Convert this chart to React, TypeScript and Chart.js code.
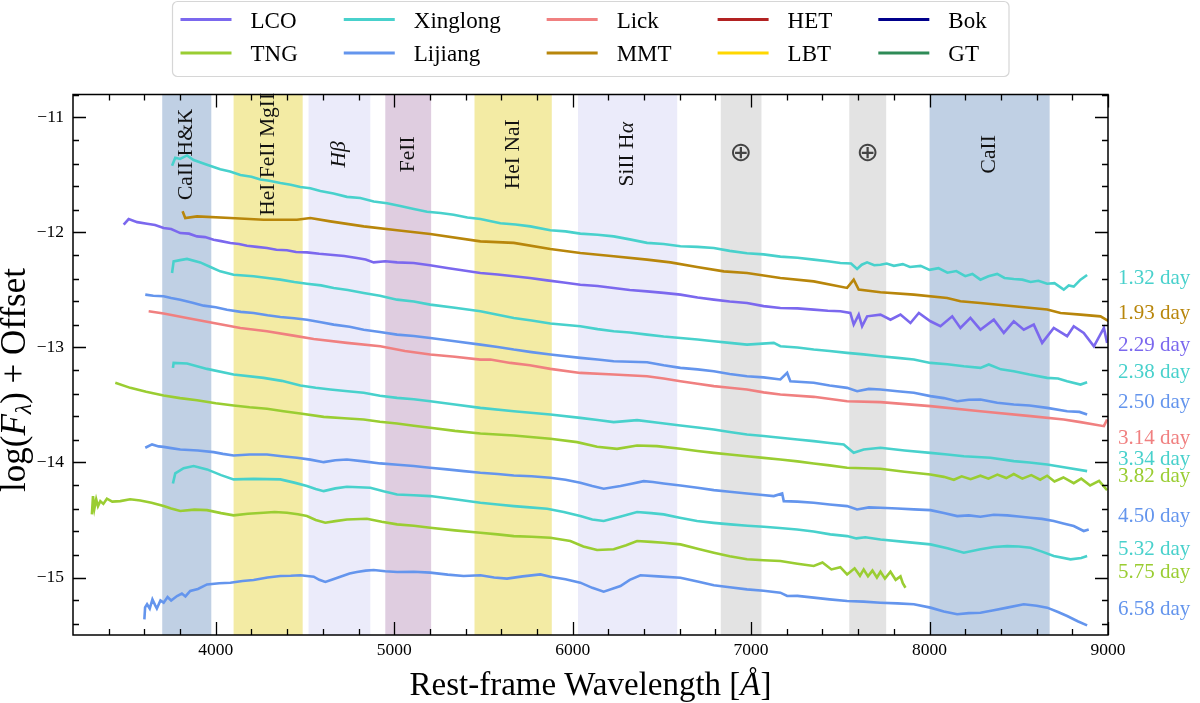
import React, { useEffect, useRef } from "react";
import { Chart, registerables } from "chart.js";
Chart.register(...registerables);

const SERIF = "'Liberation Serif', 'Times New Roman', Times, serif";

// Telescopes (legend)
const telescopeNames = ["LCO", "TNG", "Xinglong", "Lijiang", "Lick", "MMT", "HET", "LBT", "Bok", "GT"];
const telescopeColors = ["#7B68EE", "#9ACD32", "#48D1CC", "#6495ED", "#F08080", "#B8860B", "#B22222", "#FFD700", "#00008B", "#2E8B57"];

// Line-identification bands (Angstrom)
const bandStart = [3700, 4100, 4520, 4950, 5450, 6030, 6830, 7550, 8000];
const bandEnd = [3975, 4487, 4866, 5207, 5883, 6586, 7058, 7757, 8673];
const bandLabels = ["CaII H&K", "HeI FeII MgII", "$Hβ$", "FeII", "HeI NaI", "SiII H$α$", "⊕", "⊕", "CaII"];
const bandColors = ["#C0D0E4", "#F3EBA4", "#EBEBFA", "#DFCDE0", "#F3EBA4", "#EBEBFA", "#E3E3E3", "#E3E3E3", "#C0D0E4"];
const bandLabelLevel = -11.32;

// Axis ticks
const xMajorTicks = [4000, 5000, 6000, 7000, 8000, 9000];
const yMajorTicks = [-15, -14, -13, -12, -11];

// Spectra: [rest wavelength, log flux + offset]
const xinglong132 = [[3755,-11.42],[3773,-11.35],[3800,-11.36],[3839,-11.33],[3876,-11.37],[3951,-11.41],[4025,-11.45],[4080,-11.47],[4138,-11.5],[4200,-11.515],[4250,-11.54],[4300,-11.55],[4362,-11.57],[4420,-11.585],[4474,-11.605],[4530,-11.615],[4586,-11.64],[4660,-11.66],[4735,-11.69],[4810,-11.70],[4885,-11.73],[4960,-11.745],[5034,-11.77],[5110,-11.795],[5184,-11.82],[5260,-11.83],[5333,-11.845],[5410,-11.87],[5483,-11.883],[5595,-11.92],[5680,-11.93],[5763,-11.947],[5875,-11.98],[5960,-11.99],[6043,-12.01],[6140,-12.02],[6230,-12.034],[6320,-12.06],[6417,-12.09],[6510,-12.1],[6604,-12.12],[6700,-12.125],[6791,-12.135],[6880,-12.16],[6977,-12.18],[7070,-12.19],[7164,-12.21],[7260,-12.22],[7351,-12.236],[7430,-12.25],[7500,-12.265],[7560,-12.27],[7594,-12.317],[7620,-12.28],[7650,-12.26],[7690,-12.285],[7725,-12.28],[7760,-12.27],[7800,-12.29],[7850,-12.275],[7890,-12.3],[7950,-12.29],[8000,-12.325],[8050,-12.31],[8100,-12.35],[8150,-12.335],[8200,-12.38],[8240,-12.36],[8285,-12.41],[8330,-12.38],[8379,-12.36],[8420,-12.395],[8472,-12.404],[8520,-12.41],[8566,-12.43],[8610,-12.42],[8659,-12.445],[8700,-12.44],[8752,-12.497],[8780,-12.46],[8808,-12.47],[8846,-12.41],[8883,-12.37]];
const mmt193 = [[3814,-11.816],[3829,-11.874],[3895,-11.86],[4082,-11.874],[4268,-11.889],[4455,-11.889],[4530,-11.874],[4642,-11.903],[4829,-11.947],[5016,-11.98],[5202,-12.013],[5483,-12.077],[5670,-12.09],[5875,-12.144],[6043,-12.178],[6230,-12.207],[6417,-12.236],[6548,-12.26],[6697,-12.3],[6847,-12.338],[6977,-12.352],[7164,-12.396],[7351,-12.425],[7538,-12.482],[7575,-12.41],[7603,-12.497],[7725,-12.52],[7912,-12.54],[8099,-12.57],[8173,-12.598],[8285,-12.613],[8472,-12.642],[8659,-12.67],[8734,-12.7],[8846,-12.714],[8958,-12.729],[9004,-12.77]];
const lco229 = [[3484,-11.932],[3512,-11.883],[3560,-11.91],[3615,-11.924],[3660,-11.935],[3708,-11.961],[3750,-11.97],[3801,-12.005],[3850,-12.01],[3895,-12.034],[3940,-12.04],[3988,-12.063],[4030,-12.075],[4082,-12.092],[4130,-12.1],[4175,-12.115],[4230,-12.125],[4287,-12.135],[4340,-12.15],[4399,-12.155],[4450,-12.17],[4511,-12.173],[4580,-12.185],[4642,-12.193],[4720,-12.205],[4791,-12.222],[4840,-12.235],[4885,-12.26],[4950,-12.25],[5016,-12.26],[5109,-12.265],[5200,-12.285],[5296,-12.309],[5390,-12.33],[5483,-12.352],[5580,-12.365],[5670,-12.381],[5760,-12.395],[5857,-12.416],[5950,-12.435],[6043,-12.454],[6140,-12.465],[6230,-12.483],[6320,-12.5],[6417,-12.512],[6510,-12.525],[6604,-12.54],[6700,-12.565],[6791,-12.584],[6880,-12.6],[6977,-12.613],[7070,-12.64],[7164,-12.656],[7260,-12.66],[7351,-12.671],[7430,-12.68],[7500,-12.685],[7556,-12.7],[7575,-12.8],[7603,-12.714],[7622,-12.815],[7650,-12.729],[7725,-12.714],[7781,-12.758],[7837,-12.714],[7893,-12.787],[7940,-12.7],[8005,-12.772],[8061,-12.815],[8127,-12.729],[8173,-12.83],[8229,-12.743],[8285,-12.845],[8360,-12.758],[8416,-12.873],[8472,-12.772],[8528,-12.845],[8584,-12.801],[8631,-12.96],[8696,-12.83],[8771,-12.902],[8808,-12.815],[8864,-12.873],[8921,-12.99],[8977,-12.83],[8995,-12.96]];
const xinglong238 = [[3755,-12.352],[3764,-12.251],[3800,-12.24],[3839,-12.23],[3913,-12.26],[3970,-12.3],[4025,-12.338],[4100,-12.367],[4212,-12.381],[4290,-12.395],[4362,-12.41],[4440,-12.43],[4511,-12.445],[4590,-12.46],[4661,-12.483],[4740,-12.5],[4829,-12.526],[4920,-12.55],[5016,-12.584],[5110,-12.6],[5202,-12.627],[5340,-12.655],[5483,-12.685],[5580,-12.715],[5670,-12.743],[5770,-12.765],[5875,-12.792],[6043,-12.815],[6140,-12.84],[6230,-12.859],[6320,-12.87],[6417,-12.888],[6510,-12.905],[6604,-12.917],[6700,-12.93],[6791,-12.946],[6880,-12.96],[6977,-12.975],[7127,-12.96],[7164,-12.989],[7260,-13.0],[7351,-13.018],[7440,-13.03],[7538,-13.047],[7630,-13.06],[7725,-13.076],[7820,-13.09],[7912,-13.105],[8005,-13.134],[8100,-13.145],[8192,-13.163],[8285,-13.177],[8332,-13.148],[8400,-13.19],[8472,-13.206],[8560,-13.235],[8659,-13.264],[8720,-13.27],[8771,-13.293],[8846,-13.322],[8883,-13.302]];
const lijiang250 = [[3605,-12.54],[3650,-12.55],[3708,-12.555],[3750,-12.57],[3801,-12.584],[3870,-12.61],[3932,-12.636],[4000,-12.65],[4063,-12.671],[4140,-12.69],[4212,-12.7],[4290,-12.72],[4362,-12.735],[4440,-12.745],[4511,-12.758],[4590,-12.78],[4661,-12.801],[4750,-12.82],[4829,-12.845],[4920,-12.865],[5016,-12.888],[5110,-12.9],[5202,-12.917],[5340,-12.945],[5483,-12.975],[5580,-12.995],[5670,-13.018],[5770,-13.04],[5875,-13.061],[6043,-13.09],[6140,-13.105],[6230,-13.119],[6417,-13.128],[6510,-13.155],[6604,-13.177],[6700,-13.19],[6791,-13.206],[6880,-13.23],[6977,-13.25],[7070,-13.26],[7164,-13.278],[7202,-13.221],[7220,-13.293],[7351,-13.307],[7440,-13.33],[7538,-13.351],[7594,-13.38],[7660,-13.36],[7725,-13.365],[7820,-13.38],[7912,-13.394],[8005,-13.423],[8080,-13.44],[8155,-13.467],[8220,-13.455],[8285,-13.452],[8379,-13.481],[8472,-13.496],[8560,-13.505],[8659,-13.525],[8771,-13.554],[8840,-13.56],[8883,-13.583]];
const lick314 = [[3624,-12.685],[3708,-12.705],[3839,-12.743],[3988,-12.787],[4138,-12.83],[4287,-12.859],[4436,-12.897],[4549,-12.926],[4735,-12.96],[4922,-12.989],[5060,-13.03],[5202,-13.061],[5340,-13.08],[5483,-13.105],[5539,-13.105],[5651,-13.134],[5760,-13.155],[5875,-13.186],[6043,-13.221],[6230,-13.235],[6417,-13.25],[6510,-13.27],[6604,-13.293],[6700,-13.315],[6791,-13.336],[6880,-13.35],[6977,-13.365],[7070,-13.39],[7164,-13.409],[7351,-13.429],[7538,-13.467],[7725,-13.475],[8005,-13.51],[8285,-13.554],[8566,-13.597],[8752,-13.626],[8846,-13.649],[8977,-13.684],[8995,-13.626]];
const xinglong334 = [[3760,-13.177],[3764,-13.134],[3839,-13.139],[3951,-13.186],[4100,-13.235],[4268,-13.264],[4370,-13.29],[4474,-13.331],[4560,-13.35],[4642,-13.365],[4740,-13.38],[4829,-13.394],[4920,-13.42],[5016,-13.438],[5110,-13.45],[5202,-13.467],[5340,-13.495],[5483,-13.525],[5670,-13.554],[5875,-13.583],[6043,-13.612],[6140,-13.63],[6230,-13.649],[6361,-13.632],[6480,-13.655],[6604,-13.678],[6700,-13.695],[6791,-13.713],[6880,-13.735],[6977,-13.756],[7070,-13.77],[7164,-13.785],[7260,-13.8],[7351,-13.814],[7440,-13.83],[7519,-13.843],[7575,-13.916],[7631,-13.887],[7725,-13.872],[7860,-13.895],[8005,-13.916],[8100,-13.93],[8192,-13.945],[8341,-13.959],[8472,-13.988],[8560,-14.0],[8659,-14.017],[8770,-14.045],[8883,-14.075]];
const tng382 = [[3437,-13.307],[3521,-13.351],[3610,-13.385],[3708,-13.417],[3800,-13.44],[3895,-13.458],[4000,-13.485],[4100,-13.504],[4190,-13.52],[4287,-13.533],[4380,-13.555],[4474,-13.574],[4605,-13.603],[4720,-13.615],[4829,-13.626],[4920,-13.645],[5016,-13.661],[5110,-13.68],[5202,-13.698],[5340,-13.725],[5483,-13.748],[5670,-13.765],[5875,-13.794],[6025,-13.823],[6137,-13.863],[6249,-13.881],[6361,-13.852],[6473,-13.858],[6604,-13.881],[6700,-13.9],[6791,-13.916],[6880,-13.93],[6977,-13.945],[7070,-13.96],[7164,-13.974],[7260,-13.99],[7351,-14.008],[7440,-14.025],[7538,-14.046],[7725,-14.055],[7860,-14.08],[8005,-14.104],[8080,-14.125],[8136,-14.15],[8180,-14.12],[8230,-14.145],[8285,-14.115],[8330,-14.14],[8380,-14.105],[8430,-14.135],[8472,-14.1],[8520,-14.14],[8570,-14.11],[8620,-14.15],[8659,-14.115],[8700,-14.165],[8750,-14.13],[8808,-14.18],[8850,-14.14],[8900,-14.2],[8950,-14.16],[8995,-14.24]];
const lijiang450 = [[3605,-13.872],[3643,-13.843],[3680,-13.86],[3708,-13.864],[3750,-13.875],[3801,-13.887],[3900,-13.895],[3988,-13.91],[4040,-13.925],[4100,-13.939],[4190,-13.93],[4287,-13.93],[4370,-13.945],[4455,-13.959],[4530,-13.975],[4605,-13.997],[4670,-13.98],[4735,-13.974],[4830,-13.99],[4922,-14.008],[5020,-14.02],[5109,-14.031],[5200,-14.045],[5296,-14.06],[5390,-14.075],[5483,-14.089],[5580,-14.1],[5670,-14.113],[5770,-14.12],[5875,-14.133],[5960,-14.15],[6043,-14.176],[6110,-14.205],[6174,-14.228],[6268,-14.205],[6330,-14.185],[6398,-14.162],[6450,-14.17],[6510,-14.182],[6604,-14.2],[6700,-14.22],[6791,-14.24],[6880,-14.255],[6977,-14.269],[7050,-14.28],[7127,-14.292],[7174,-14.269],[7183,-14.336],[7260,-14.34],[7351,-14.35],[7440,-14.365],[7538,-14.379],[7594,-14.408],[7660,-14.39],[7725,-14.393],[7820,-14.4],[7912,-14.408],[8005,-14.414],[8080,-14.44],[8155,-14.466],[8220,-14.46],[8285,-14.472],[8360,-14.455],[8435,-14.46],[8500,-14.47],[8566,-14.48],[8630,-14.49],[8696,-14.509],[8750,-14.53],[8808,-14.553],[8864,-14.596],[8892,-14.582]];
const xinglong532 = [[3760,-14.182],[3773,-14.095],[3820,-14.05],[3876,-14.031],[3951,-14.06],[4030,-14.11],[4100,-14.147],[4212,-14.142],[4362,-14.147],[4440,-14.175],[4511,-14.205],[4560,-14.23],[4605,-14.249],[4670,-14.225],[4735,-14.211],[4866,-14.22],[4940,-14.25],[5016,-14.278],[5110,-14.285],[5202,-14.292],[5340,-14.32],[5483,-14.35],[5580,-14.365],[5670,-14.379],[5760,-14.39],[5857,-14.402],[5950,-14.43],[6043,-14.466],[6110,-14.495],[6174,-14.509],[6270,-14.47],[6361,-14.431],[6440,-14.44],[6510,-14.451],[6600,-14.48],[6697,-14.509],[6790,-14.525],[6884,-14.538],[6980,-14.55],[7071,-14.559],[7160,-14.57],[7258,-14.582],[7350,-14.6],[7444,-14.625],[7538,-14.64],[7590,-14.66],[7640,-14.65],[7725,-14.669],[7860,-14.69],[8005,-14.712],[8100,-14.745],[8192,-14.784],[8285,-14.755],[8360,-14.735],[8435,-14.727],[8500,-14.73],[8566,-14.741],[8630,-14.775],[8696,-14.813],[8790,-14.842],[8850,-14.83],[8883,-14.813]];
const tng575 = [[3306,-14.451],[3312,-14.292],[3320,-14.4],[3330,-14.32],[3340,-14.38],[3353,-14.336],[3370,-14.36],[3390,-14.315],[3420,-14.34],[3465,-14.336],[3520,-14.32],[3577,-14.33],[3640,-14.35],[3708,-14.379],[3750,-14.4],[3801,-14.422],[3880,-14.41],[3951,-14.414],[4030,-14.44],[4100,-14.46],[4180,-14.445],[4268,-14.437],[4330,-14.43],[4399,-14.437],[4460,-14.45],[4511,-14.466],[4560,-14.5],[4614,-14.524],[4670,-14.51],[4735,-14.495],[4847,-14.489],[4930,-14.515],[5016,-14.538],[5110,-14.55],[5202,-14.567],[5340,-14.59],[5483,-14.611],[5580,-14.625],[5670,-14.64],[5770,-14.645],[5875,-14.654],[5987,-14.683],[6060,-14.73],[6137,-14.761],[6230,-14.755],[6300,-14.72],[6361,-14.683],[6440,-14.69],[6510,-14.698],[6604,-14.712],[6700,-14.75],[6791,-14.784],[6880,-14.815],[6977,-14.842],[7070,-14.85],[7164,-14.857],[7260,-14.88],[7351,-14.9],[7400,-14.87],[7450,-14.93],[7500,-14.91],[7538,-14.973],[7580,-14.92],[7610,-14.985],[7631,-14.93],[7655,-14.99],[7680,-14.94],[7705,-15.0],[7725,-14.95],[7750,-15.01],[7781,-14.95],[7810,-15.02],[7837,-14.99],[7850,-15.05],[7865,-15.089]];
const lijiang658 = [[3600,-15.364],[3604,-15.26],[3615,-15.233],[3630,-15.27],[3645,-15.19],[3660,-15.24],[3670,-15.27],[3690,-15.2],[3708,-15.219],[3730,-15.17],[3750,-15.2],[3783,-15.161],[3810,-15.14],[3830,-15.165],[3857,-15.117],[3900,-15.1],[3951,-15.06],[4020,-15.05],[4082,-15.045],[4150,-15.03],[4212,-15.022],[4290,-15.0],[4362,-14.987],[4420,-14.985],[4474,-14.981],[4549,-14.993],[4580,-15.02],[4614,-15.039],[4650,-15.02],[4698,-14.993],[4750,-14.965],[4791,-14.952],[4840,-14.94],[4885,-14.935],[4950,-14.945],[5016,-14.952],[5110,-14.95],[5202,-14.958],[5300,-14.975],[5389,-14.987],[5483,-14.981],[5560,-15.0],[5632,-15.01],[5720,-14.99],[5819,-14.973],[5875,-14.993],[5960,-15.015],[6043,-15.045],[6110,-15.09],[6174,-15.123],[6268,-15.074],[6320,-15.02],[6380,-14.981],[6480,-14.99],[6604,-15.002],[6700,-15.035],[6791,-15.068],[6880,-15.085],[6977,-15.103],[7070,-15.115],[7164,-15.132],[7202,-15.161],[7260,-15.16],[7351,-15.175],[7440,-15.19],[7538,-15.204],[7630,-15.21],[7725,-15.219],[7820,-15.225],[7912,-15.233],[8005,-15.262],[8080,-15.295],[8155,-15.32],[8220,-15.31],[8285,-15.306],[8360,-15.285],[8435,-15.262],[8528,-15.233],[8600,-15.245],[8659,-15.262],[8720,-15.3],[8771,-15.335],[8830,-15.38],[8883,-15.416]];

const spectra = [xinglong132, mmt193, lco229, xinglong238, lijiang250, lick314, xinglong334, tng382, lijiang450, xinglong532, tng575, lijiang658];
const spectrumTelescope = ["Xinglong", "MMT", "LCO", "Xinglong", "Lijiang", "Lick", "Xinglong", "TNG", "Lijiang", "Xinglong", "TNG", "Lijiang"];
const dayLabels = ["1.32 day", "1.93 day", "2.29 day", "2.38 day", "2.50 day", "3.14 day", "3.34 day", "3.82 day", "4.50 day", "5.32 day", "5.75 day", "6.58 day"];
const dayLabelLevel = [-12.40, -12.70, -12.98, -13.22, -13.48, -13.79, -13.97, -14.12, -14.47, -14.76, -14.96, -15.28];

const colorOf = (t: string) => telescopeColors[telescopeNames.indexOf(t)];
const fmt = (v: number) => (v < 0 ? "\u2212" : "") + String(Math.abs(v));

type Run = { t: string; f: string; dy?: number };

function parseRuns(label: string, size: number, family: string): Run[] {
  const parts = label.split("$");
  const runs: Run[] = [];
  parts.forEach((p, i) => {
    if (!p) return;
    runs.push({ t: p, f: `${i % 2 === 1 ? "italic " : ""}${size}px ${family}` });
  });
  return runs;
}

function drawRuns(ctx: CanvasRenderingContext2D, runs: Run[], x: number, y: number) {
  let total = 0;
  runs.forEach((r) => {
    ctx.font = r.f;
    total += ctx.measureText(r.t).width;
  });
  let cx = x - total / 2;
  ctx.textAlign = "left";
  runs.forEach((r) => {
    ctx.font = r.f;
    ctx.fillText(r.t, cx, y + (r.dy || 0));
    cx += ctx.measureText(r.t).width;
  });
}

const decor = {
  id: "decor",
  beforeDatasetsDraw(chart: any) {
    const { ctx, chartArea, scales } = chart;
    const { top, bottom } = chartArea;
    const xs = scales.x;
    const ys = scales.y;
    ctx.save();
    bandStart.forEach((s: number, i: number) => {
      const x0 = xs.getPixelForValue(s);
      const x1 = xs.getPixelForValue(bandEnd[i]);
      ctx.fillStyle = bandColors[i];
      ctx.fillRect(x0, top, x1 - x0, bottom - top);
    });
    const ly = ys.getPixelForValue(bandLabelLevel);
    bandLabels.forEach((lab: string, i: number) => {
      const cx = xs.getPixelForValue((bandStart[i] + bandEnd[i]) / 2);
      ctx.save();
      ctx.translate(cx, ly);
      ctx.fillStyle = "#111";
      ctx.textBaseline = "middle";
      if (lab === "⊕") {
        ctx.fillStyle = "#444";
        ctx.font = "27px 'DejaVu Sans ExtraLight', 'DejaVu Sans'";
        ctx.textAlign = "center";
        ctx.fillText(lab, 0, 0);
      } else {
        ctx.rotate(-Math.PI / 2);
        drawRuns(ctx, parseRuns(lab, 21.5, SERIF), 0, 0);
      }
      ctx.restore();
    });
    ctx.restore();
  },
  afterDraw(chart: any) {
    const { ctx, chartArea, scales } = chart;
    const { left, right, top, bottom } = chartArea;
    const xs = scales.x;
    const ys = scales.y;
    ctx.save();
    // frame
    ctx.strokeStyle = "#000";
    ctx.lineWidth = 1.5;
    ctx.strokeRect(left, top, right - left, bottom - top);
    // ticks
    ctx.lineWidth = 1.3;
    const major = 13;
    const minor = 6;
    ctx.beginPath();
    for (let v = 3400; v <= 9000; v += 200) {
      const isMajor = xMajorTicks.includes(v);
      const L = isMajor ? major : minor;
      const px = Math.round(xs.getPixelForValue(v)) + 0.5;
      ctx.moveTo(px, bottom);
      ctx.lineTo(px, bottom - L);
      ctx.moveTo(px, top);
      ctx.lineTo(px, top + L);
    }
    for (let k = -77; k <= -54; k++) {
      const v = k / 5;
      const isMajor = Math.abs(v - Math.round(v)) < 1e-6;
      const L = isMajor ? major : minor;
      const py = Math.round(ys.getPixelForValue(v)) + 0.5;
      ctx.moveTo(left, py);
      ctx.lineTo(left + L, py);
      ctx.moveTo(right, py);
      ctx.lineTo(right - L, py);
    }
    ctx.stroke();

    // axis titles
    ctx.fillStyle = "#000";
    ctx.textBaseline = "alphabetic";
    drawRuns(
      ctx,
      [
        { t: "Rest-frame Wavelength [", f: `33px ${SERIF}` },
        { t: "Å", f: `italic 33px ${SERIF}` },
        { t: "]", f: `33px ${SERIF}` },
      ],
      (left + right) / 2,
      695
    );
    ctx.save();
    ctx.translate(25, 380);
    ctx.rotate(-Math.PI / 2);
    drawRuns(
      ctx,
      [
        { t: "log(", f: `35px ${SERIF}` },
        { t: "F", f: `italic 35px ${SERIF}` },
        { t: "λ", f: `italic 24px ${SERIF}`, dy: 6 },
        { t: ") + Offset", f: `35px ${SERIF}` },
      ],
      0,
      0
    );
    ctx.restore();

    // day labels
    ctx.font = `21px ${SERIF}`;
    ctx.textAlign = "left";
    ctx.textBaseline = "middle";
    dayLabels.forEach((d: string, i: number) => {
      ctx.fillStyle = colorOf(spectrumTelescope[i]);
      ctx.fillText(d, right + 10, ys.getPixelForValue(dayLabelLevel[i]));
    });

    // legend
    const lx = 172.5, ly = 1.5, lw = 836.5, lh = 75;
    ctx.beginPath();
    (ctx as any).roundRect(lx, ly, lw, lh, 5);
    ctx.fillStyle = "rgba(255,255,255,0.9)";
    ctx.fill();
    ctx.strokeStyle = "#d6d6d6";
    ctx.lineWidth = 1.2;
    ctx.stroke();
    ctx.font = `23px ${SERIF}`;
    const rows = [19.5, 53];
    let colX = 180.5;
    for (let c = 0; c < 5; c++) {
      let maxW = 0;
      for (let r = 0; r < 2; r++) {
        const idx = c * 2 + r;
        const yy = rows[r];
        ctx.strokeStyle = telescopeColors[idx];
        ctx.lineWidth = 3;
        ctx.beginPath();
        ctx.moveTo(colX, yy);
        ctx.lineTo(colX + 51, yy);
        ctx.stroke();
        ctx.fillStyle = "#000";
        ctx.textAlign = "left";
        ctx.textBaseline = "middle";
        ctx.fillText(telescopeNames[idx], colX + 70, yy + 2);
        maxW = Math.max(maxW, ctx.measureText(telescopeNames[idx]).width);
      }
      colX = colX + 70 + maxW + 46;
    }
    ctx.restore();
  },
};

export default function App() {
  const ref = useRef<HTMLCanvasElement | null>(null);
  useEffect(() => {
    document.body.style.margin = "0";
    const canvas = ref.current;
    if (!canvas) return;
    const datasets = spectra.map((s, i) => ({
      label: dayLabels[i],
      data: s.map(([x, y]) => ({ x, y })),
      borderColor: colorOf(spectrumTelescope[i]),
      backgroundColor: colorOf(spectrumTelescope[i]),
      borderWidth: 2.6,
      pointRadius: 0,
      fill: false,
      tension: 0,
    }));
    const chart = new Chart(canvas, {
      type: "line",
      data: { datasets },
      options: {
        animation: false,
        responsive: false,
        devicePixelRatio: 1,
        layout: { padding: { left: 8, top: 94.5, right: 92, bottom: 0 } },
        plugins: { legend: { display: false }, tooltip: { enabled: false } },
        scales: {
          x: {
            type: "linear",
            min: 3200,
            max: 9000,
            grid: { display: false, drawTicks: false },
            border: { display: false },
            ticks: {
              font: { family: SERIF, size: 17.5 },
              color: "#000",
              padding: 5,
              maxRotation: 0,
              autoSkip: false,
              callback: (v: any) => fmt(Number(v)),
            },
            afterBuildTicks: (s: any) => {
              s.ticks = xMajorTicks.map((v) => ({ value: v }));
            },
            afterFit: (s: any) => {
              s.height = 68;
            },
          },
          y: {
            type: "linear",
            min: -15.5,
            max: -10.8,
            grid: { display: false, drawTicks: false },
            border: { display: false },
            ticks: {
              font: { family: SERIF, size: 17.5 },
              color: "#000",
              padding: 9,
              autoSkip: false,
              callback: (v: any) => fmt(Number(v)),
            },
            afterBuildTicks: (s: any) => {
              s.ticks = yMajorTicks.map((v) => ({ value: v }));
            },
            afterFit: (s: any) => {
              s.width = 65;
            },
          },
        },
      } as any,
      plugins: [decor as any],
    });
    return () => chart.destroy();
  }, []);
  return (
    <div style={{ position: "fixed", left: 0, top: 0, width: 1200, height: 703, background: "#fff" }}>
      <canvas ref={ref} width={1200} height={703} style={{ width: 1200, height: 703, display: "block" }} />
    </div>
  );
}
